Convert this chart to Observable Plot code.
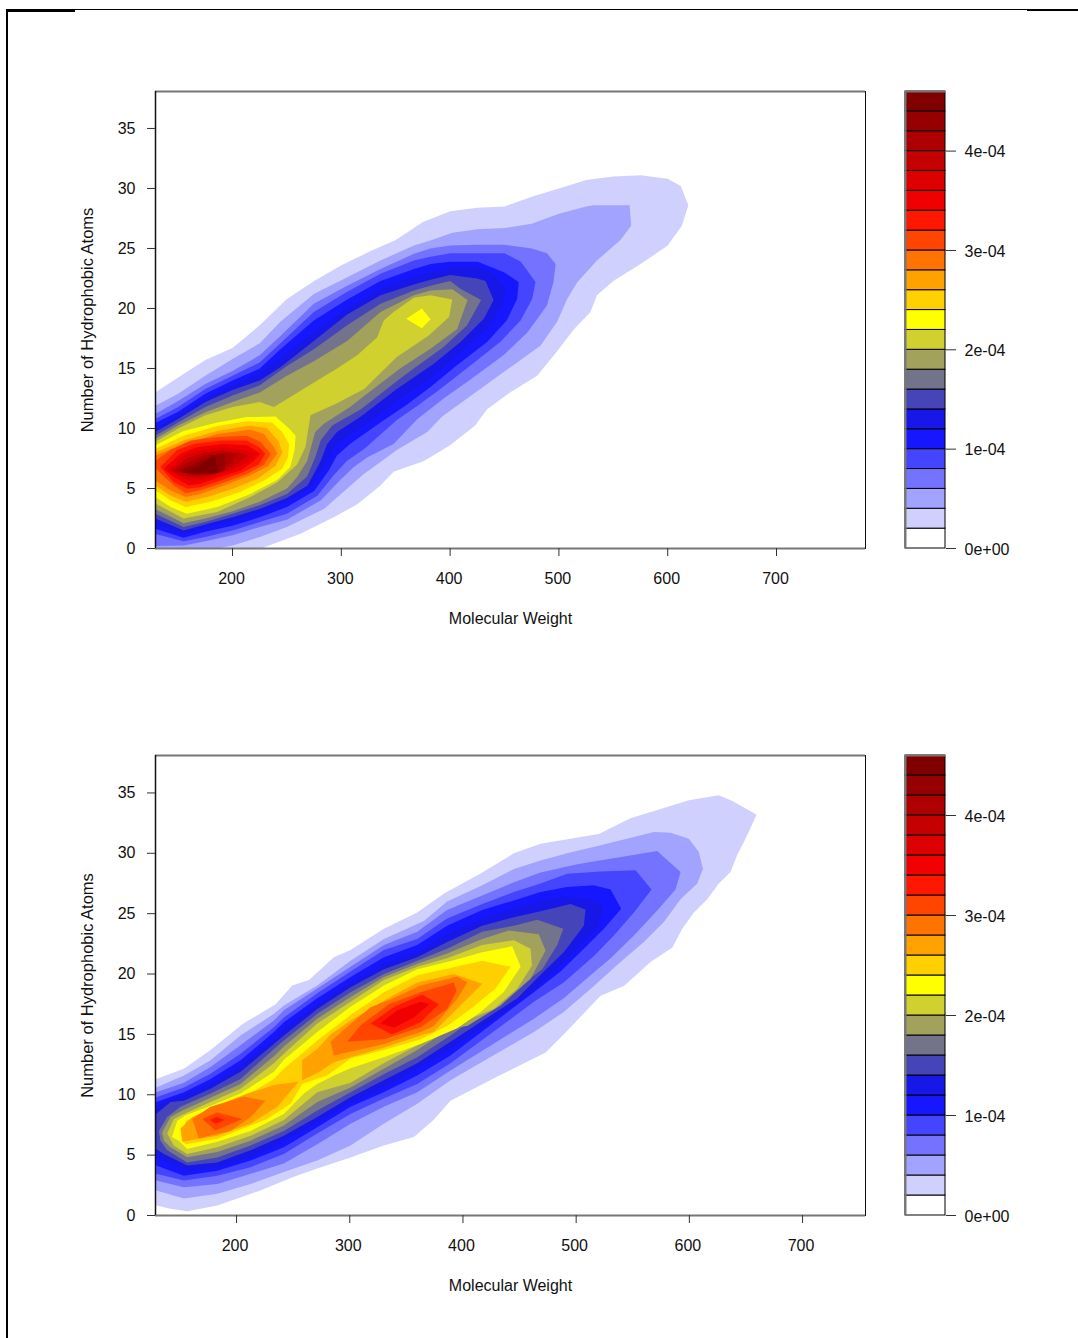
<!DOCTYPE html>
<html>
<head>
<meta charset="utf-8">
<script src="https://cdn.jsdelivr.net/npm/d3@7"></script>
<script src="https://cdn.jsdelivr.net/npm/@observablehq/plot@0.6"></script>
<style>
html,body{margin:0;padding:0;background:#fff;overflow:hidden}
#page{position:relative;width:1078px;height:1338px;overflow:hidden;background:#fff}
#page svg{position:absolute;background:transparent}
.edge{position:absolute;background:#000}
</style>
</head>
<body>
<div id="page"></div>
<script>
// density band colours, lowest band first (each band spans 2e-5)
const bandColors = ["#ffffff","#d0d0ff","#a2a2ff","#7373ff","#4545ff","#1717ff","#1717e8","#4545b9","#73738b","#a2a25d","#d0d02e","#ffff00","#ffd000","#ffa200","#ff7300","#ff4500","#ff1700","#f00000","#dc0000","#c50000","#ae0000","#970000","#800000"];
const bandStep = 2e-5;
const xAxisTicks = [200,300,400,500,600,700];
const yAxisTicks = [0,5,10,15,20,25,30,35];
const barTicks = [0,1e-4,2e-4,3e-4,4e-4];
const barTickLabels = ["0e+00","1e-04","2e-04","3e-04","4e-04"];
const xLabel = "Molecular Weight";
const yLabel = "Number of Hydrophobic Atoms";

// contour outlines: [level, [[molecular weight, hydrophobic atoms], ...]]
const topContours = [
[1,[[129,13],[150,14.25],[175,15.7],[200,16.7],[225,18.6],[250,20.8],[275,22.3],[300,23.6],[325,24.7],[350,25.7],[375,27.2],[400,28.1],[425,28.4],[450,28.5],[475,29.3],[500,30],[525,30.7],[550,31],[575,31.1],[600,30.8],[612,30.2],[619,28.6],[613,26.9],[600,25.25],[575,23.7],[550,22.3],[535,21.1],[529,19.7],[514,18.3],[498,16.4],[480,14.4],[455,13],[434,11.6],[423,10.25],[400,8.6],[376,7.3],[348,6.4],[336,5.25],[315,3.7],[293,2.6],[262,1.2],[226,0],[129,0]]],
[2,[[129,11.9],[150,12.9],[175,14.4],[200,15.8],[225,17.1],[244,18.9],[274.7,21.2],[305.4,22.6],[336,24],[366.7,25.25],[382,25.67],[402,26.3],[425,26.6],[450,26.7],[475,27.06],[500,27.9],[525,28.5],[532,28.6],[565,28.6],[566.4,26.9],[556.6,25.7],[535,24],[517,22.2],[507.6,20.8],[498.4,18.9],[483,16.9],[461.6,15.5],[440,14.1],[415.6,12.5],[392.7,11],[379,9.7],[351,8.2],[336,7.2],[320.7,6.2],[305.4,5],[284,3.3],[250,1.8],[225,.95],[200,.25],[186,0],[129,0]]],
[3,[[129,11.2],[150,12.3],[175,13.7],[200,14.8],[225,16.1],[244,17.7],[274.7,20.4],[305.4,21.9],[336,23.3],[366.7,24.55],[382,25],[400,25.25],[425,25.3],[450,25.3],[475,25],[489,24.6],[497,23.7],[495,22.2],[489,20.25],[471,18],[449,16.1],[419,14.1],[394,12.5],[370,10.8],[348,8.7],[324,7.6],[311.5,6.8],[299,5.7],[281,4],[250,2.4],[225,1.8],[200,1.1],[175,.6],[155,.25],[129,.2]]],
[4,[[129,10.8],[150,11.8],[175,13.3],[200,14.4],[225,15.5],[244,17.1],[274.7,19.7],[305.4,21.4],[336,22.9],[366.7,24],[382,24.3],[400,24.6],[425,24.6],[450,24.6],[465,23.9],[478.5,22.2],[475.4,20.8],[464.7,19],[446,17.2],[418.7,15.25],[391,13.3],[370,11.9],[351,10.7],[321,8.3],[305,7.3],[293,6.1],[278,4.4],[250,2.9],[225,2.2],[200,1.5],[175,.95],[155,.6],[129,1.2]]],
[5,[[129,10.45],[150,11.4],[175,12.9],[200,14],[225,15],[244,16.6],[274.7,19],[305.4,20.75],[336,22.3],[366.7,23.3],[382,23.7],[400,23.9],[425.5,23.9],[450,23],[463,22.2],[461.6,20.8],[452,19],[434,17.2],[406,15.25],[382,13.45],[360.5,12],[336,10.5],[308,8.7],[296,7.75],[288.5,6.5],[275,4.8],[250,3.45],[225,2.6],[200,1.9],[175,1.4],[155,.9],[129,1.65]]],
[6,[[129,10],[150,11.1],[175,12.5],[200,13.6],[225,14.6],[244,15.9],[274.7,18],[305.4,20],[336,21.6],[366.7,22.7],[382,23],[400,23.4],[425.5,23.4],[440,22.9],[451,21.65],[448,20.25],[434,18.3],[409.5,16.35],[385,14.4],[354.4,12.5],[327,10.6],[305,9.3],[293,8.45],[284,6.8],[272,5.1],[250,3.9],[225,3],[200,2.3],[175,1.8],[155,1.2],[129,2.05]]],
[7,[[129,9.7],[150,10.8],[175,12.2],[200,13.2],[225,14],[244,15.1],[274.7,17.3],[305.4,19.5],[336,21.1],[366.7,22],[382,22.4],[400,22.8],[425,22.5],[432.5,22.3],[440,20.7],[431,19.15],[409.5,17.2],[385,15.4],[351,13.3],[318,11],[296,9.7],[287,8.7],[281,7.3],[269,5.25],[250,4.2],[225,3.3],[200,2.6],[175,2],[155,1.5],[129,2.5]]],
[8,[[129,9.4],[150,10.5],[175,11.8],[200,12.75],[225,13.6],[250,15.2],[274.7,16.6],[305.4,18.6],[336,20.4],[366.7,21.5],[382,21.9],[400,22.3],[409.5,21.65],[428.5,20.7],[415.6,18.6],[394,16.8],[357.4,14.4],[318,11.6],[291.6,10.25],[281,9],[276,7.6],[268.6,6],[250,4.55],[225,3.6],[200,2.9],[175,2.2],[155,1.8],[129,2.9]]],
[9,[[129,9.15],[150,10.25],[175,11.35],[200,12.2],[225,13],[250,14.4],[274.7,15.6],[305.4,17.3],[336,19.7],[366.7,21.1],[382,21.5],[402,21.6],[416,20.7],[406.5,18.3],[382,16.65],[354,15],[318,12.5],[308,11.8],[284,10.4],[276,9.7],[268.6,7.3],[259.4,5.95],[250,5],[225,3.9],[200,3.1],[175,2.5],[155,2.1],[129,3.3]]],
[10,[[129,8.9],[150,10],[175,11.1],[200,11.8],[225,12.2],[238,11.8],[276,13.9],[296,15],[314.6,16.1],[333,17.6],[339,19],[348,19.7],[366.7,20.9],[382,21.1],[402,20.75],[399,19.3],[380.4,17.75],[351,15.95],[321,13.3],[296,12.1],[271.7,11.1],[267,8.45],[259.4,7],[241,5.5],[216.5,4.3],[186,3.05],[155,2.5],[129,3.75]]],
[11,[[129,8.6],[155,9.8],[186,10.5],[213,10.95],[239.5,11],[252,10],[258,9.4],[257,8.2],[253,6.8],[241,5.7],[216.5,4.55],[186,3.45],[158,2.9],[143,3.45],[129,4.3]]],
[11,[[359.6,19.15],[374,20],[382,19.1],[374,18.35]]],
[12,[[129,8.3],[155,9.4],[186,10.2],[213,10.6],[236.4,10.5],[245.6,9.7],[252,8.7],[251,7.6],[245.6,6.65],[229,5.67],[207,4.7],[180,3.9],[157,3.45],[143,4],[129,4.85]]],
[13,[[129,8],[155,9],[186,9.8],[216.5,10.25],[232,10],[242.6,8.9],[245.6,8],[239.5,6.9],[222.6,5.8],[201,5],[176.7,4.3],[157,3.9],[143,4.4],[129,5.25]]],
[14,[[129,7.75],[155,8.7],[186,9.55],[216.5,9.9],[228.8,9.55],[238,8.45],[241,7.9],[233,6.9],[216.5,6.1],[192,5.25],[170.6,4.55],[157,4.3],[143,4.85],[129,5.67]]],
[15,[[129,7.3],[143,8.2],[161.4,9],[186,9.3],[213,9.4],[225.7,8.9],[235,7.9],[229,7],[213.5,6.2],[192,5.5],[170.6,4.85],[157,4.6],[146,5.25],[132.3,6.4],[129,6.8]]],
[16,[[133.8,6.8],[149,8.2],[164.4,8.7],[189,9],[213,9],[224,8.45],[230,7.9],[224,7],[210.4,6.4],[189,5.67],[170.6,5.1],[158.3,5],[146,5.5]]],
[17,[[136.9,6.65],[152,7.9],[167.5,8.45],[192,8.7],[213.5,8.6],[225.7,7.9],[219.6,7.3],[207.3,6.5],[189,5.95],[170.6,5.4],[160,5.25],[146,5.95]]],
[18,[[141.5,6.65],[155.2,7.75],[170.6,8.2],[192,8.45],[210.4,8.17],[221,7.9],[213.5,7.2],[202.7,6.65],[185.9,6.1],[170.6,5.67],[160,5.67],[149,6.1]]],
[19,[[144.5,6.5],[158.3,7.5],[173.6,8],[192,8.17],[207.3,7.95],[213.5,7.75],[204.3,7.05],[190.5,6.4],[173.6,5.95],[161.4,5.95],[152,6.1]]],
[20,[[147.6,6.5],[159.8,7.2],[175,7.8],[193.5,7.95],[204,7.9],[198,7.05],[186,6.4],[164.4,6.1]]],
[21,[[150.6,6.45],[164.4,7.05],[182.8,7.8],[192.6,7.9],[193.5,6.5],[182.8,6.2],[164.4,6.17]]],
[22,[[153.7,6.3],[167.5,6.8],[183.7,7.8],[186.8,6.3]]]
];

const bottomContours = [
[1,[[129,11.3],[153.5,12.15],[177,13.7],[206,15.9],[234.5,17.5],[249.2,19.05],[264,19.5],[286,21.4],[300.7,22],[330.2,23.75],[359.6,25.1],[383,26.65],[417,28.4],[445,30],[468.5,30.8],[520,31.6],[548,32.9],[599.6,34.4],[626,34.8],[639,34.3],[659.4,33.2],[649.6,31.2],[642,29.8],[636.4,28.45],[626,27.5],[615.8,26.2],[604,25.1],[593.7,23.75],[585,22.2],[565.7,21],[542.2,19],[521.6,18.2],[489,15],[473,13.5],[430,11.5],[389,9.5],[374,7.9],[356.7,6.5],[330,5.8],[300.7,4.8],[271.3,3.9],[250.6,3.2],[221,2.07],[183,.83],[156.4,.36],[141.7,.55],[129,.83]]],
[2,[[129,10.6],[153.5,11.6],[177,12.85],[203.5,14.9],[233,16.7],[241.8,17.4],[271.3,19.05],[300.7,21.1],[330.2,22.9],[365.5,24.4],[386,26],[417,27.35],[445,28.7],[468.5,29.4],[492,30],[521.6,30.66],[568.7,31.76],[583.4,31.7],[599.6,31.2],[608.4,30.1],[612,28.7],[607,27.5],[592.2,26.2],[577.5,24.3],[559.8,22.65],[539.2,21],[515.7,19],[489,16.85],[462.7,15.2],[389,11.2],[359.6,9.25],[330,7.6],[300.7,5.8],[271.3,4.55],[241.8,3.6],[212.4,2.6],[183,1.8],[153.5,1.4],[129,2.07]]],
[3,[[129,10.2],[153.5,11],[177,12.3],[203.5,14.1],[233,16.15],[241.8,17],[271.3,18.8],[300.7,20.6],[330.2,22.4],[359.6,23.5],[386,25.3],[417,26.5],[445,27.6],[468.5,28.4],[501,29.1],[571.6,30.2],[592.2,28.45],[587.8,27],[573,25.4],[551,23.2],[530.4,21.3],[512.7,19.9],[489,18],[462.7,16.3],[389,12],[359.6,10.2],[330,9],[300.7,7.6],[271.3,5.9],[241.8,4.3],[212.4,3.45],[183,2.6],[153.5,2.35],[129,2.9]]],
[4,[[129,9.8],[153.5,10.6],[177,11.75],[203.5,13.4],[233,15.6],[241.8,16.4],[271.3,18.4],[300.7,20.2],[330.2,22],[359.6,22.9],[386,24.6],[417,25.8],[445,26.8],[468.5,27.5],[492,28.3],[521.6,28.5],[552.5,28.6],[566.6,27],[551,25.1],[533.3,23.2],[515.7,21.5],[489,19.3],[462.7,17.7],[389,12.6],[359.6,10.9],[330,9.7],[300.7,8.4],[271.3,6.8],[241.8,5.1],[212.4,4],[183,3.3],[153.5,2.9],[129,3.45]]],
[5,[[129,9.4],[153.5,10.2],[177,11.3],[203.5,12.85],[233,15.2],[241.8,16],[271.3,18],[300.7,19.75],[330.2,21.4],[359.6,22.4],[386,24],[417,25.3],[445,26.1],[468.5,26.8],[492,27.2],[515.6,27.35],[530.4,27],[539.8,25.4],[524.5,23.75],[506.8,22.1],[486.2,20.2],[462.7,18.5],[389,13.25],[359.6,11.6],[330,10.2],[300.7,9],[271.3,7.3],[241.8,5.65],[212.4,4.55],[183,3.7],[153.5,3.3],[129,4.15]]],
[6,[[129,9],[141.7,9.65],[153.5,9.95],[177,10.9],[203.5,12.4],[233,14.6],[241.8,15.5],[271.3,17.5],[300.7,19.3],[330.2,20.85],[359.6,21.8],[386,23.3],[417,24.6],[445,25.4],[468.5,26.1],[492,26.4],[512.7,26.2],[521.6,25.8],[524.5,25.4],[518.6,23.75],[501,22.1],[480.3,20.2],[453.8,18],[389,13.8],[359.6,12.15],[330,10.6],[300.7,9.4],[271.3,7.7],[241.8,6.2],[212.4,4.8],[183,4],[156.4,3.73],[129,4.83]]],
[7,[[129,8.4],[141.7,9.4],[153.5,9.5],[177,10.5],[203.5,11.9],[233,14.2],[241.8,14.9],[271.3,17.1],[300.7,18.9],[330.2,20.4],[359.6,21.4],[386,22.65],[417,24],[445,24.7],[468.5,25.2],[495,25.8],[508.3,25.35],[506.8,24],[489,21.8],[471.5,20.2],[448,18],[389,14.4],[359.6,12.6],[330,11.2],[300.7,9.8],[271.3,8.15],[241.8,6.6],[212.4,5.4],[183,4.4],[156.4,4.15],[135.8,5.1],[129,5.5]]],
[8,[[131.4,7],[138.7,8.15],[150.5,9],[177,10.1],[203.5,11.3],[233,13.8],[241.8,14.5],[271.3,16.7],[300.7,18.5],[330.2,20],[359.6,21.1],[386,22.1],[417,23.5],[445,24],[465.6,24.5],[488.6,23.75],[483.3,22.4],[470,20.4],[448,18.8],[389,14.9],[359.6,13.1],[330,11.7],[300.7,10.2],[271.3,8.7],[241.8,7],[212.4,5.8],[183,4.8],[156.4,4.4],[138.7,5.4],[132.8,6.2]]],
[9,[[134.3,6.9],[141.7,8.15],[152,8.7],[177,9.75],[203.5,10.9],[233,13.2],[241.8,14],[271.3,16.3],[300.7,18.1],[330.2,19.75],[359.6,20.85],[386,21.7],[417,22.9],[440.6,23.6],[467,23.3],[473,21.95],[459.7,19.6],[433.2,17.4],[403.8,15.7],[389,15.5],[359.6,13.7],[330,12.15],[300.7,10.6],[271.3,9.4],[241.8,7.45],[212.4,6.2],[183,5.25],[156.4,4.83],[141.7,5.65],[135.8,6.2]]],
[10,[[138.7,6.8],[144.6,8],[153.5,8.4],[177,9.4],[203.5,10.5],[233,12.6],[241.8,13.4],[271.3,15.9],[300.7,17.7],[330.2,19.5],[359.6,20.6],[386,21.3],[417,22.4],[445,22.8],[459.7,22.1],[461,20.7],[448,18.8],[427.3,17.1],[403.8,16.2],[389,15.9],[359.6,14.1],[330,12.6],[300.7,11],[271.3,10.2],[241.8,7.9],[212.4,6.6],[183,5.65],[156.4,5.1],[144.6,5.8]]],
[11,[[143,6.5],[147.6,7.85],[155,8.3],[177,9.1],[203.5,10.1],[233,11.9],[241.8,12.9],[271.3,15.2],[300.7,17.3],[330.2,19.05],[359.6,20.4],[386,21],[417,21.8],[443.5,22.3],[451,20.6],[436,18.5],[415.5,16.85],[395,15.5],[362.6,14.2],[330,13.1],[300.7,12.2],[286,11.6],[271.3,10.9],[259.5,10.1],[241.8,8.4],[212.4,7],[183,6.1],[156.4,5.5],[149,6.2]]],
[12,[[152,6.2],[155,7.85],[177,8.7],[203.5,9.65],[233,11.3],[241.8,12.15],[271.3,14.5],[300.7,16.6],[330.2,18.5],[359.6,19.9],[389,20.5],[417,21.1],[442,20.6],[428.8,18.8],[406.7,17.1],[386,15.7],[362.6,14.6],[330,13.7],[300.7,13],[280,11.6],[258,10.9],[247.7,9.25],[227,8],[212.4,7.45],[183,6.35],[155,5.9]]],
[13,[[150.5,7.2],[161,8.15],[183,9.1],[209.4,10.1],[233,10.8],[255,11.1],[236,9],[212.4,7.6],[183,6.6],[152,6.1]]],
[13,[[258,11.2],[258,12.85],[271.3,13.8],[283,15],[300.7,16.15],[330.2,17.8],[359.6,19.3],[392,20],[417,19.2],[403.8,17.95],[374,15.2],[362.6,14.9],[330,13.9],[300.7,13.1],[286,12.7],[271.3,11.8]]],
[14,[[161,8],[177,9],[206.5,9.85],[225.6,9.5],[212.4,8.15],[194.7,7],[166.7,6.4]]],
[14,[[283,14.4],[299.3,15.75],[318.4,17.25],[336,17.9],[362.6,19.06],[395,19.8],[403.8,19.3],[395,17.95],[374.3,15.7],[362.6,15.2],[330,14.2],[286,13.25]]],
[15,[[169.6,8],[183,8.55],[205,8],[181.4,7.05]]],
[15,[[297.8,14.4],[309.6,15.75],[334.6,17.5],[362.6,18.5],[392,19.3],[394.3,18.6],[386,17.1],[362.6,15.6],[330,14.6]]],
[16,[[176.4,7.93],[183,8.15],[189.4,7.9],[181.4,7.6]]],
[16,[[318.4,15.9],[339,17.26],[364,18.3],[378.7,17.5],[362.5,16],[337.5,15]]],
[17,[[327,15.9],[342,17],[362.6,17.7],[370,17.5],[356.6,16.4],[339,15.55]]]
];

const page = document.getElementById("page");
const fontFamily = "'Liberation Sans', Arial, sans-serif";
const noLabel = () => "";

function contourPlot(contours, xDomain, yDomain, top, frameH, labelShift) {
  const frameTop = 31, marginBottom = 90;
  const svg = Plot.plot({
    width: 880, height: frameTop + frameH + marginBottom,
    marginLeft: 155, marginRight: 15, marginTop: frameTop, marginBottom,
    style: {fontFamily, fontSize: "16px", color: "#111", background: "transparent", overflow: "visible"},
    x: {domain: xDomain},
    y: {domain: yDomain},
    marks: [
      ...contours.map(([level, pts]) => Plot.line(pts, {
        x: d => d[0], y: d => d[1], fill: bandColors[level], stroke: "none", clip: true
      })),
      Plot.frame({stroke: "#111", strokeWidth: 1}),
      Plot.ruleY([yDomain[1]], {stroke: "#777", strokeWidth: 2}),
      Plot.ruleY([yDomain[0]], {stroke: "#777", strokeWidth: 2}),
      Plot.ruleX([xDomain[0]], {stroke: "#111", strokeWidth: 1.5}),
      Plot.axisX({ticks: xAxisTicks, tickSize: 8, tickFormat: noLabel, stroke: "#333", label: null}),
      Plot.axisX({ticks: xAxisTicks, tickSize: 0, tickPadding: 24, dx: labelShift, fontSize: 16, tickFormat: d => String(d),
        label: xLabel, labelAnchor: "center", labelOffset: 75, labelArrow: "none"}),
      Plot.axisY({ticks: yAxisTicks, tickSize: 8, tickFormat: noLabel, stroke: "#333", label: null}),
      Plot.axisY({ticks: yAxisTicks, tickSize: 0, tickPadding: 20, fontSize: 16, tickFormat: d => String(d), label: null}),
      Plot.axisY({ticks: [], tickSize: 0, fontSize: 16.5,
        label: yLabel, labelAnchor: "center", labelOffset: 74, labelArrow: "none"})
    ]
  });
  svg.style.left = "0px"; svg.style.top = (top - frameTop) + "px";
  page.appendChild(svg);
}

function colorBar(top, frameH) {
  const frameTop = 10, marginBottom = 20;
  const bands = bandColors.map((fill, i) => ({low: i * bandStep, high: (i + 1) * bandStep, fill}));
  const yMax = bands.length * bandStep;
  const svg = Plot.plot({
    width: 178, height: frameTop + frameH + marginBottom,
    marginLeft: 5, marginRight: 133, marginTop: frameTop, marginBottom,
    style: {fontFamily, fontSize: "16px", color: "#111", background: "transparent", overflow: "visible"},
    x: {domain: [0, 1], axis: null},
    y: {domain: [0, yMax]},
    marks: [
      Plot.rect(bands, {x1: 0, x2: 1, y1: "low", y2: "high", fill: "fill", stroke: "#000", strokeWidth: 1}),
      Plot.ruleX([0], {stroke: "#777", strokeWidth: 2}),
      Plot.ruleY([yMax], {stroke: "#777", strokeWidth: 2}),
      Plot.axisY({anchor: "right", ticks: barTicks, tickSize: 10, tickFormat: noLabel, label: null, stroke: "#333"}),
      Plot.axisY({anchor: "right", ticks: barTicks, tickSize: 0, tickPadding: 19, dy: 1, fontSize: 16,
        tickFormat: d => barTickLabels[barTicks.findIndex(t => Math.abs(t - d) < 1e-9)], label: null})
    ]
  });
  svg.style.left = "900px"; svg.style.top = (top - frameTop) + "px";
  page.appendChild(svg);
}

contourPlot(topContours, [129.2, 781.8], [0, 38.08], 91, 457, -1);
colorBar(91, 457);
contourPlot(bottomContours, [128.4, 755.6], [0, 38.1], 755, 460, -1.5);
colorBar(755, 460);

// scanned page edge
[[7,9,68,3],[75,9,952,1],[1027,9,51,2],[6,9,2,1329]].forEach(([l,t,w,h]) => {
  const e = document.createElement("div");
  e.className = "edge";
  e.style.cssText = `left:${l}px;top:${t}px;width:${w}px;height:${h}px`;
  page.appendChild(e);
});
</script>
</body>
</html>
